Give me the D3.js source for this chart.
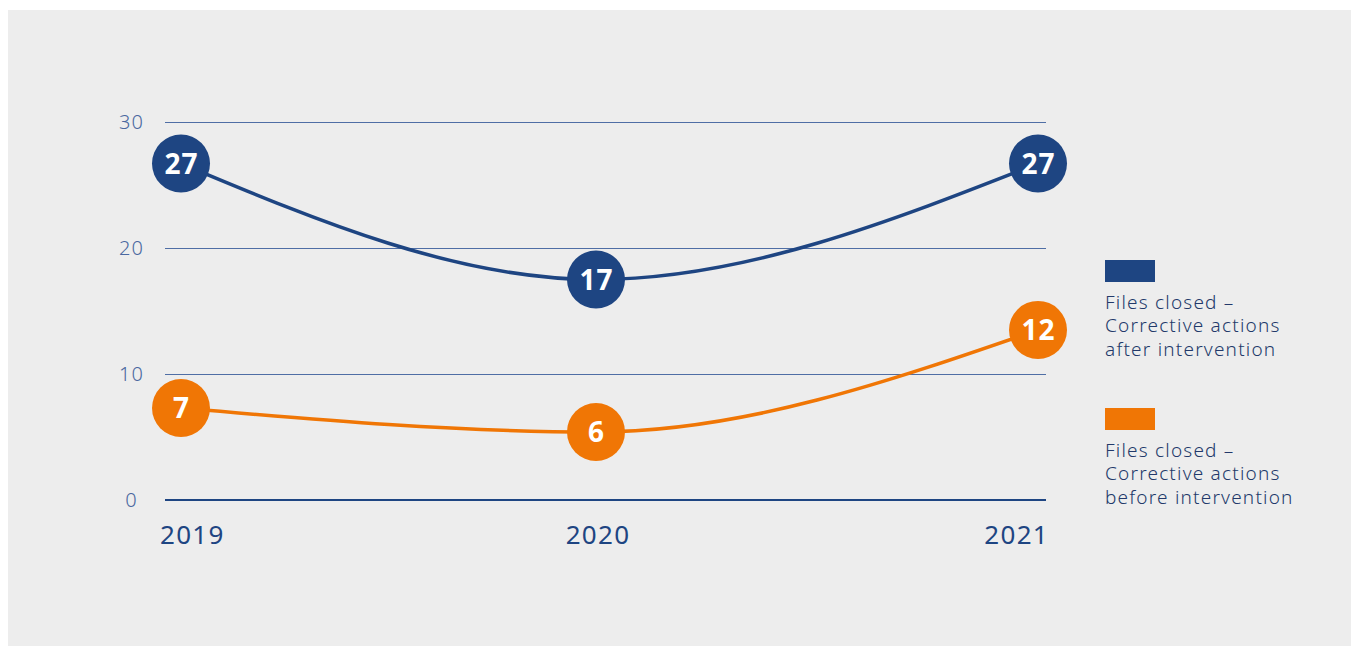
<!DOCTYPE html>
<html><head><meta charset="utf-8">
<script src="https://cdn.jsdelivr.net/npm/d3@7"></script>
<style>
html,body{margin:0;padding:0;background:#fff;}
svg{display:block;font-family:"Noto Sans",Lato,sans-serif;}
</style></head>
<body><svg id="c" width="1351" height="647"></svg>
<script>
// Data
const years = [2019, 2020, 2021];
const yTicks = [0, 10, 20, 30];
const afterLabels = [27, 17, 27];
const afterValues = [26.7, 17.5, 26.7];   // plotted heights
const beforeLabels = [7, 6, 12];
const beforeValues = [7.3, 5.4, 13.5];
const legendNames = [
  ["Files closed –", "Corrective actions", "after intervention"],
  ["Files closed –", "Corrective actions", "before intervention"]
];
const colors = ["#1e4582", "#f07605"];

const svg = d3.select("#c");
svg.append("rect").attr("x", 8).attr("y", 10).attr("width", 1343).attr("height", 636).attr("fill", "#ededed");

const x = d3.scaleOrdinal().domain(years).range([181, 596, 1038]);
const y = d3.scaleLinear().domain([0, 30]).range([500, 122]);

// grid
const g = svg.append("g");
g.selectAll("line.grid").data(yTicks).join("line")
  .attr("x1", 165).attr("x2", 1046)
  .attr("y1", d => d === 0 ? y(d) : Math.round(y(d)) + 0.5)
  .attr("y2", d => d === 0 ? y(d) : Math.round(y(d)) + 0.5)
  .attr("stroke", d => d === 0 ? "#1e4582" : "#4f6ea5")
  .attr("stroke-width", d => d === 0 ? 2 : 1);
g.selectAll("text.yt").data(yTicks).join("text")
  .attr("x", 131.5).attr("y", d => y(d)).attr("dy", "0.35em")
  .attr("text-anchor", "middle").attr("fill", "#4a68a0")
  .attr("font-size", 20).attr("font-weight", 300).attr("letter-spacing", 1).text(d => d);

// x labels
const xAnchor = ["start", "middle", "end"];
const xPos = [160, 598, 1049];
g.selectAll("text.xt").data(years).join("text")
  .attr("x", (d, i) => xPos[i]).attr("y", 535).attr("dy", "0.35em")
  .attr("text-anchor", (d, i) => xAnchor[i]).attr("fill", "#1e4582")
  .attr("font-size", 26).attr("letter-spacing", 1.3).text(d => d);

const line = d3.line().x(d => x(d.year)).y(d => y(d.v)).curve(d3.curveMonotoneX);
const series = [
  {vals: afterValues, labels: afterLabels, color: colors[0]},
  {vals: beforeValues, labels: beforeLabels, color: colors[1]}
];
series.forEach(s => {
  const pts = years.map((yr, i) => ({year: yr, v: s.vals[i], lab: s.labels[i]}));
  svg.append("path").datum(pts).attr("d", line).attr("fill", "none")
    .attr("stroke", s.color).attr("stroke-width", 3.5);
  const mg = svg.append("g");
  mg.selectAll("circle").data(pts).join("circle")
    .attr("cx", d => x(d.year)).attr("cy", d => y(d.v)).attr("r", 29).attr("fill", s.color);
  mg.selectAll("text").data(pts).join("text")
    .attr("x", d => x(d.year) + 0.5).attr("y", d => y(d.v)).attr("dy", "0.36em")
    .attr("text-anchor", "middle").attr("fill", "#fff")
    .attr("font-size", 28).attr("font-weight", 700).attr("letter-spacing", 1).text(d => d.lab);
});

// legend
const legY = [260, 408];
legendNames.forEach((lines, i) => {
  svg.append("rect").attr("x", 1105).attr("y", legY[i]).attr("width", 50).attr("height", 22).attr("fill", colors[i]);
  lines.forEach((t, j) => {
    svg.append("text").attr("x", 1105).attr("y", legY[i] + 42 + j * 23.5).attr("dy", "0.35em")
      .attr("fill", "#22396a").attr("font-size", 19).attr("font-weight", 300)
      .attr("letter-spacing", 1.2).text(t);
  });
});
</script></body></html>
